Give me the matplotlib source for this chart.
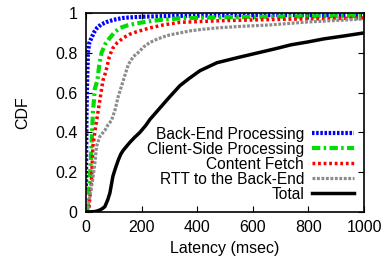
import numpy as np
import matplotlib.pyplot as plt

plt.rcParams['font.family'] = ['Liberation Sans', 'DejaVu Sans']

# latency (msec) vs CDF
backend_x = [0, 1, 2, 4, 7, 12, 20, 30, 40, 55, 75, 100, 133, 170, 218, 300, 500, 700, 1000]
backend_y = [0.11, 0.3, 0.5, 0.64, 0.8, 0.85, 0.875, 0.905, 0.925, 0.943, 0.955, 0.966, 0.975, 0.979, 0.982, 0.985, 0.988, 0.989, 0.99]

client_x = [0, 4, 7, 14, 20, 25, 32, 41, 48, 56, 70, 86, 103, 122, 150, 183, 225, 266, 338, 500, 700, 1000]
client_y = [0.0, 0.01, 0.025, 0.16, 0.33, 0.5, 0.62, 0.66, 0.74, 0.8, 0.845, 0.875, 0.903, 0.925, 0.938, 0.948, 0.958, 0.965, 0.973, 0.979, 0.982, 0.985]

fetch_x = [0, 6, 11, 20, 25, 34, 43, 52, 61, 68, 74, 84, 95, 112, 134, 157, 183, 230, 278, 338, 500, 700, 1000]
fetch_y = [0.0, 0.005, 0.025, 0.16, 0.33, 0.42, 0.5, 0.58, 0.66, 0.69, 0.72, 0.78, 0.82, 0.85, 0.875, 0.893, 0.906, 0.925, 0.94, 0.953, 0.962, 0.968, 0.975]

rtt_x = [0, 5, 14, 24, 32, 38, 50, 68, 80, 92, 104, 116, 125, 134, 152, 170, 187, 208, 230, 255, 278, 302, 338, 374, 420, 471, 560, 662, 800, 1000]
rtt_y = [0.0, 0.005, 0.077, 0.16, 0.245, 0.33, 0.38, 0.41, 0.44, 0.46, 0.51, 0.58, 0.62, 0.66, 0.74, 0.78, 0.8, 0.83, 0.852, 0.868, 0.88, 0.89, 0.9, 0.91, 0.918, 0.925, 0.933, 0.94, 0.955, 0.97]

total_x = [0, 30, 38, 50, 60, 68, 78, 86, 97, 106, 116, 125, 134, 146, 158, 175, 194, 215, 230, 255, 280, 302, 338, 370, 410, 471, 543, 619, 680, 737, 800, 856, 930, 1000]
total_y = [0.0, 0.002, 0.004, 0.01, 0.018, 0.027, 0.06, 0.095, 0.18, 0.22, 0.26, 0.29, 0.31, 0.33, 0.35, 0.375, 0.4, 0.435, 0.465, 0.505, 0.545, 0.58, 0.635, 0.67, 0.71, 0.75, 0.775, 0.8, 0.82, 0.84, 0.855, 0.87, 0.885, 0.9]

fig = plt.figure(figsize=(3.82, 2.65), dpi=100)
ax = fig.add_axes([0.225, 0.2, 0.728, 0.751])

ax.plot(backend_x, backend_y, color='#0000ff', lw=3, linestyle=(0, (0.6, 0.4)),
        label='Back-End Processing')
ax.plot(client_x, client_y, color='#00dd00', lw=3, linestyle=(0, (2, 0.8, 0.6, 0.8)),
        label='Client-Side Processing')
ax.plot(fetch_x, fetch_y, color='#ff0000', lw=2.5, linestyle=(0, (0.8, 0.8)),
        label='Content Fetch')
ax.plot(rtt_x, rtt_y, color='#8c8c8c', lw=2.3, linestyle=(0, (0.9, 0.5)),
        label='RTT to the Back-End')
ax.plot(total_x, total_y, color='black', lw=2.5, label='Total')

ax.set_xlim(0, 1000)
ax.set_ylim(0, 1)
ax.set_xticks([0, 200, 400, 600, 800, 1000])
ax.set_yticks([0, 0.2, 0.4, 0.6, 0.8, 1])
ax.set_yticklabels(['0', '0.2', '0.4', '0.6', '0.8', '1'])
ax.tick_params(direction='in', top=True, right=True, labelsize=11.5, length=4, pad=6)
for s in ax.spines.values():
    s.set_linewidth(1.2)

ax.set_xlabel('Latency (msec)', fontsize=11.5, labelpad=4)
ax.set_ylabel('CDF', fontsize=11.5, labelpad=18)

leg = ax.legend(loc='lower right', frameon=False, fontsize=11.2, markerfirst=False,
                handlelength=2.7, handletextpad=0.5, labelspacing=0.0,
                borderaxespad=0.25, bbox_to_anchor=(1.0, 0.0))
for t in leg.get_texts():
    t.set_ha('right')

fig.savefig('out.png', dpi=100)
